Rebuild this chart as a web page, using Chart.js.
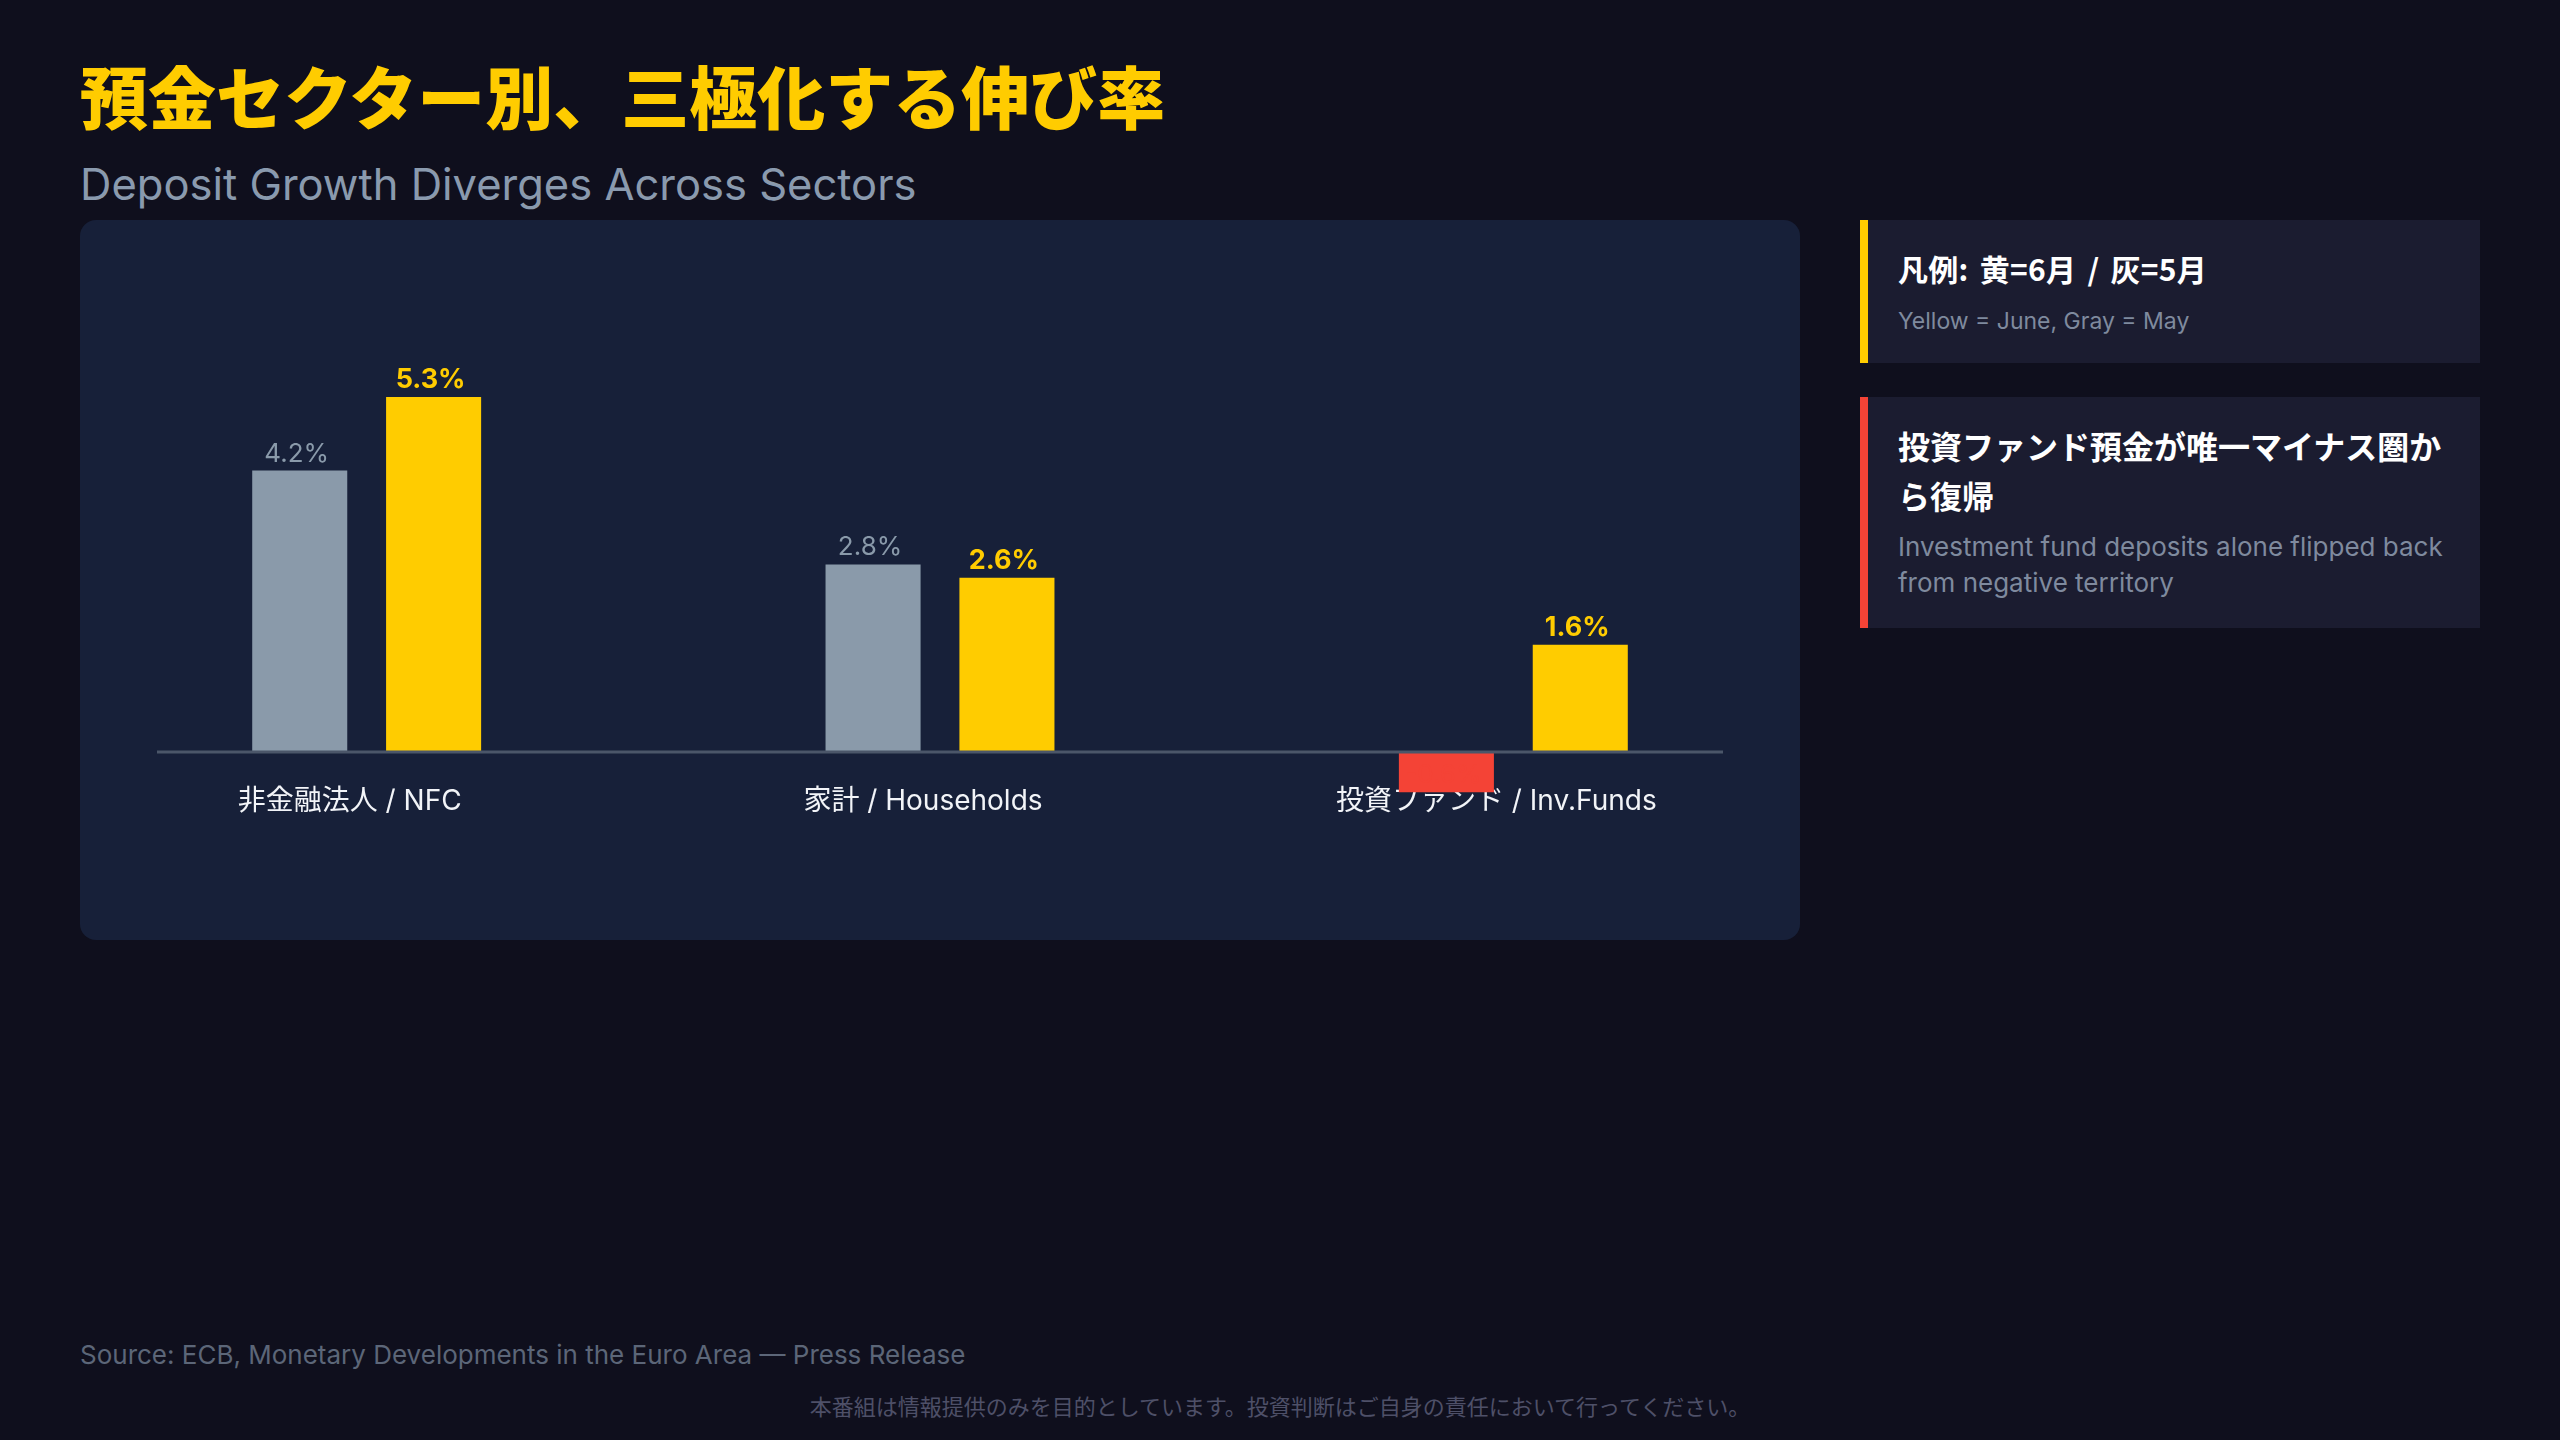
<!DOCTYPE html>
<html lang="ja">
<head>
<meta charset="utf-8">
<title>預金セクター別、三極化する伸び率</title>
<script src="https://cdn.jsdelivr.net/npm/chart.js@4.4.1/dist/chart.umd.min.js"></script>
<style>
  html, body { margin: 0; padding: 0; }
  body {
    width: 2560px; height: 1440px; overflow: hidden; position: relative;
    background: #0f0f1d;
    font-family: "Inter", "Noto Sans CJK JP", sans-serif;
  }
  .title {
    position: absolute; left: 80px; top: 54px;
    font-family: "Noto Sans CJK JP", sans-serif;
    font-size: 68px; line-height: 82px; font-weight: 900;
    color: #ffcc00; white-space: nowrap;
  }
  .subtitle {
    position: absolute; left: 80px; top: 159px;
    font-size: 43.5px; line-height: 50px; color: #8a9aae; white-space: nowrap;
  }
  .chart-box {
    position: absolute; left: 80px; top: 220px; width: 1720px; height: 720px;
    background: #172039; border-radius: 16px;
  }
  .note {
    position: absolute; left: 1860px; width: 620px; box-sizing: border-box;
    background: #1b1c30; padding: 30px 22px 0 30px;
  }
  .note.yellow { top: 220px; height: 143px; border-left: 8px solid #ffcc00; }
  .note.red { top: 397px; height: 231px; border-left: 8px solid #f44336; }
  .note h3 {
    margin: 0; color: #ffffff; font-weight: 700;
    font-family: "Noto Sans CJK JP", "Inter", sans-serif;
  }
  .note.yellow h3 { font-size: 30px; line-height: 40px; margin-top: -2px; word-spacing: 4px; letter-spacing: 0.3px; }
  .note.red h3 { font-size: 32px; line-height: 50px; margin-top: -7px; }
  .note p { margin: 0; color: #7f8a9e; }
  .note.yellow p { font-size: 23px; line-height: 34px; margin-top: 16px; }
  .note.red p { font-size: 26px; line-height: 36px; margin-top: 9px; }
  .source {
    position: absolute; left: 80px; top: 1340px;
    font-size: 26px; line-height: 30px; color: #5c6678; white-space: nowrap;
  }
  .disclaimer {
    position: absolute; left: 0; width: 2560px; top: 1390px; text-align: center;
    font-family: "Noto Sans CJK JP", sans-serif;
    font-size: 22px; line-height: 30px; color: #4e5068;
  }
</style>
</head>
<body>

<div class="title">預金セクター別、三極化する伸び率</div>
<div class="subtitle">Deposit Growth Diverges Across Sectors</div>

<div class="chart-box">
  <canvas id="depositChart"></canvas>
</div>

<div class="note yellow">
  <h3>凡例: 黄=6月 / 灰=5月</h3>
  <p>Yellow = June, Gray = May</p>
</div>
<div class="note red">
  <h3>投資ファンド預金が唯一マイナス圏から復帰</h3>
  <p>Investment fund deposits alone flipped back from negative territory</p>
</div>

<div class="source">Source: ECB, Monetary Developments in the Euro Area — Press Release</div>
<div class="disclaimer">本番組は情報提供のみを目的としています。投資判断はご自身の責任において行ってください。</div>

<script>
// sectors along the x-axis
var sectors = ["非金融法人 / NFC", "家計 / Households", "投資ファンド / Inv.Funds"];
// deposit growth, % y/y
var mayGrowth = [4.2, 2.8, -0.6];
var juneGrowth = [5.3, 2.6, 1.6];

var YELLOW = "#ffcc00";
var GRAY = "#8a9aaa";
var RED = "#f44336";
var FONT = '"Inter", "Noto Sans CJK JP", sans-serif';

// value labels sitting on top of each bar
var barLabels = {
  id: 'barLabels',
  afterDatasetsDraw: function(chart) {
    var ctx = chart.ctx;
    chart.data.datasets.forEach(function(ds, i) {
      var meta = chart.getDatasetMeta(i);
      meta.data.forEach(function(bar, j) {
        var v = ds.data[j];
        ctx.save();
        if (i === 1) {
          ctx.font = 'bold 27px ' + FONT;
          ctx.fillStyle = YELLOW;
        } else {
          ctx.font = '26px ' + FONT;
          ctx.fillStyle = v < 0 ? RED : GRAY;
        }
        ctx.textAlign = 'center';
        ctx.textBaseline = 'alphabetic';
        ctx.fillText(v.toFixed(1) + '%', bar.x - 3, bar.y - 9);
        ctx.restore();
      });
    });
  }
};

// baseline at zero, a little shorter than the plot
var zeroLine = {
  id: 'zeroLine',
  afterDatasetsDraw: function(chart) {
    var ctx = chart.ctx, area = chart.chartArea;
    var y = chart.scales.y.getPixelForValue(0);
    ctx.save();
    ctx.strokeStyle = "#4b5669";
    ctx.lineWidth = 3;
    ctx.beginPath();
    ctx.moveTo(area.left + 77, y);
    ctx.lineTo(area.right - 77, y);
    ctx.stroke();
    ctx.restore();
  }
};

var ctx = document.getElementById("depositChart");
var myChart = new Chart(ctx, {
  type: 'bar',
  data: {
    labels: sectors,
    datasets: [
      {
        label: "May",
        data: mayGrowth,
        backgroundColor: mayGrowth.map(function(v) { return v < 0 ? RED : GRAY; }),
        borderWidth: 0
      },
      {
        label: "June",
        data: juneGrowth,
        backgroundColor: YELLOW,
        borderWidth: 0
      }
    ]
  },
  options: {
    responsive: true,
    maintainAspectRatio: false,
    animation: false,
    events: [],
    categoryPercentage: 0.467,
    barPercentage: 0.71,
    layout: { padding: { top: 130, bottom: 87.5, left: 0, right: 0 } },
    plugins: {
      legend: { display: false },
      tooltip: { enabled: false }
    },
    scales: {
      x: {
        position: { y: 0 },
        grid: { display: false, drawTicks: false },
        border: { display: false },
        ticks: {
          color: "#f2f4f8",
          font: { size: 28, family: FONT },
          padding: 33,
          labelOffset: -17,
          autoSkip: false,
          maxRotation: 0
        },
        afterFit: function(scale) { scale.height = 40; }
      },
      y: {
        display: false,
        min: -1.5,
        max: 6
      }
    }
  },
  plugins: [barLabels, zeroLine]
});
</script>
</body>
</html>
